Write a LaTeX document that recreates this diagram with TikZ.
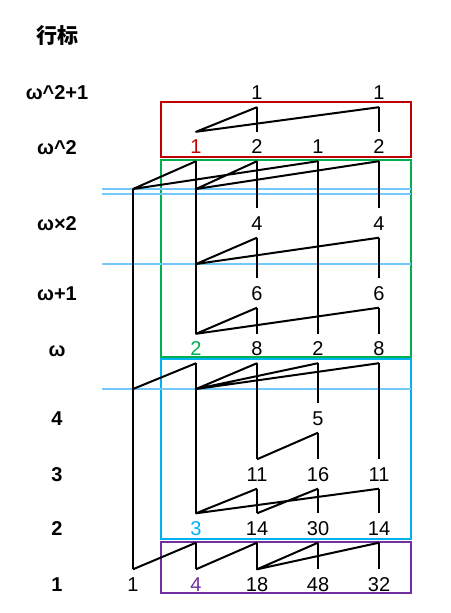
\documentclass[tikz,border=0pt]{standalone}
\usepackage{fontspec}
\setmainfont{Liberation Sans}
\newfontfamily\cjkfont{Noto Sans CJK SC}
\usepackage{xcolor}
\definecolor{boxred}{RGB}{192,0,0}
\definecolor{boxgreen}{RGB}{0,176,80}
\definecolor{boxblue}{RGB}{0,176,240}
\definecolor{boxpurple}{RGB}{112,48,160}
\definecolor{limblue}{RGB}{115,200,250}

\begin{document}
\begin{tikzpicture}[x=1pt, y=-1pt,
		num/.style={font=\fontsize{20}{21}\selectfont, text height=14pt, text depth=0pt, inner xsep=0pt, inner ysep=7.5pt, anchor=base},
		rowlab/.style={font=\bfseries\fontsize{20}{21}\selectfont, inner sep=0pt, anchor=base},
		band/.style={line width=2pt},
		limit/.style={draw=limblue, line width=2pt},
		link/.style={draw=black, line width=2pt, line join=round}]
			\useasboundingbox (0,0) rectangle (450,613);
			% row index
			\node [rowlab] (head) at (57,43) {\cjkfont\bfseries\fontsize{21}{22}\selectfont 行标};
			\node [rowlab] (row9) at (57,99.5) {ω\textasciicircum 2+1};
			\node [rowlab] (row8) at (57,154) {ω\textasciicircum 2};
			\node [rowlab] (row7) at (57,230) {ω×2};
			\node [rowlab] (row6) at (57,300) {ω+1};
			\node [rowlab] (row5) at (57,356) {ω};
			\node [rowlab] (row4) at (57,425) {4};
			\node [rowlab] (row3) at (57,481) {3};
			\node [rowlab] (row2) at (57,535) {2};
			\node [rowlab] (row1) at (57,591) {1};
			% boxes and limit lines
			\draw [band, boxred] (161,102) rectangle (411,157);
			\draw [band, boxgreen] (161,160) rectangle (411,357);
			\draw [band, boxblue] (161,359) rectangle (411,539);
			\draw [band, boxpurple] (161,542) rectangle (411,593);
			\draw [limit] (102,189) -- (411,189);
			\draw [limit] (102,194) -- (411,194);
			\draw [limit] (102,264) -- (411,264);
			\draw [limit] (102,389) -- (411,389);
			\coordinate (k0) at (133,189);
			\coordinate (k1) at (196,189);
			\coordinate (m1) at (196,264);
			\coordinate (q0) at (133,389);
			\coordinate (q1) at (196,389);
			% entries
			\node [num] (n10) at (133,591) {1};
			\node [num, text=boxpurple] (n11) at (196,591) {4};
			\node [num] (n12) at (257,591) {18};
			\node [num] (n13) at (318,591) {48};
			\node [num] (n14) at (379,591) {32};
			\node [num, text=boxblue] (n21) at (196,535) {3};
			\node [num] (n22) at (257,535) {14};
			\node [num] (n23) at (318,535) {30};
			\node [num] (n24) at (379,535) {14};
			\node [num] (n32) at (257,481) {11};
			\node [num] (n33) at (318,481) {16};
			\node [num] (n34) at (379,481) {11};
			\node [num] (n43) at (318,425) {5};
			\node [num, text=boxgreen] (n51) at (196,355.5) {2};
			\node [num] (n52) at (257,355.5) {8};
			\node [num] (n53) at (318,355.5) {2};
			\node [num] (n54) at (379,355.5) {8};
			\node [num] (n62) at (257,300) {6};
			\node [num] (n64) at (379,300) {6};
			\node [num] (n72) at (257,230) {4};
			\node [num] (n74) at (379,230) {4};
			\node [num, text=boxred] (n81) at (196,153.5) {1};
			\node [num] (n82) at (257,153.5) {2};
			\node [num] (n83) at (318,153.5) {1};
			\node [num] (n84) at (379,153.5) {2};
			\node [num] (n92) at (257,99.5) {1};
			\node [num] (n94) at (379,99.5) {1};
			% vertical links
			\draw [link] (k0) -- (n10.north);
			\draw [link] (n81.south) -- (n51.north) (n51.south) -- (n21.north) (n21.south) -- (n11.north);
			\draw [link] (n92.south) -- (n82.north) (n82.south) -- (n72.north) (n72.south) -- (n62.north) (n62.south) -- (n52.north) (n52.south) -- (n32.north) (n32.south) -- (n22.north) (n22.south) -- (n12.north);
			\draw [link] (n83.south) -- (n53.north) (n53.south) -- (n43.north) (n43.south) -- (n33.north) (n33.south) -- (n23.north) (n23.south) -- (n13.north);
			\draw [link] (n94.south) -- (n84.north) (n84.south) -- (n74.north) (n74.south) -- (n64.north) (n64.south) -- (n54.north) (n54.south) -- (n34.north) (n34.south) -- (n24.north) (n24.south) -- (n14.north);
			% parent links
			\draw [link] (n92.south) -- (n81.north) -- (n94.south);
			\draw [link] (n81.south) -- (k0) -- (n83.south) (n82.south) -- (k1) -- (n84.south);
			\draw [link] (n72.south) -- (m1) -- (n74.south);
			\draw [link] (n62.south) -- (n51.north) -- (n64.south);
			\draw [link] (n51.south) -- (q0) (q1) -- (n52.south) (q1) -- (n53.south) (q1) -- (n54.south);
			\draw [link] (n32.north) -- (n43.south);
			\draw [link] (n32.south) -- (n21.north) -- (n34.south) (n22.north) -- (n33.south);
			\draw [link] (n10.north) -- (n21.south) (n11.north) -- (n22.south) (n23.south) -- (n12.north) -- (n24.south);
		\end{tikzpicture}
\end{document}
